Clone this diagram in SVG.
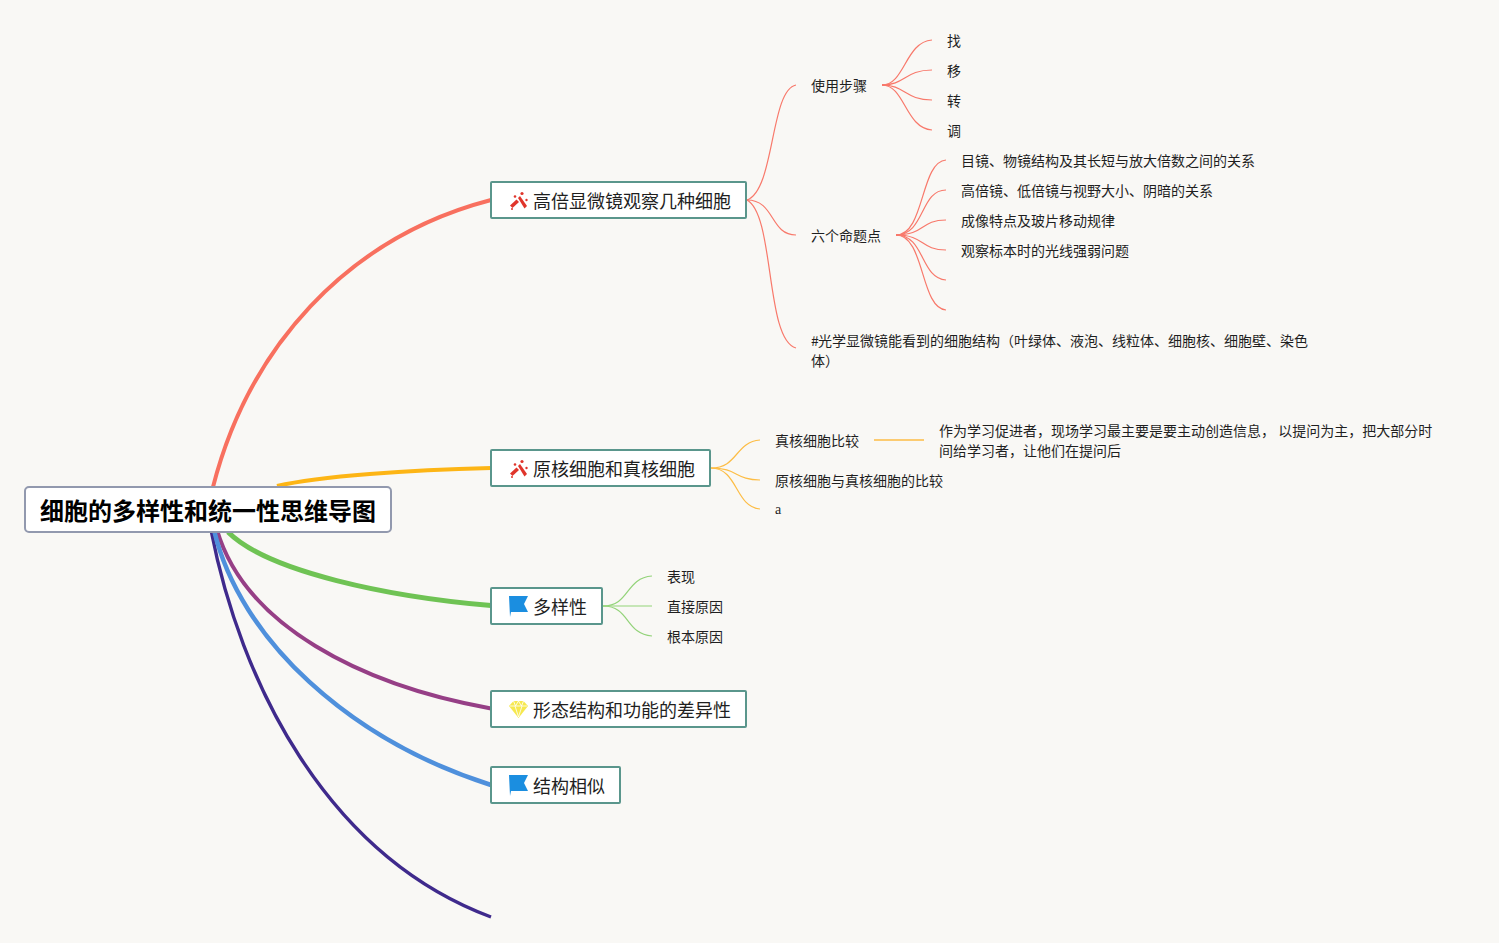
<svg xmlns="http://www.w3.org/2000/svg" width="1499" height="943" viewBox="0 0 1499 943">
<style>
text{font-family:"Noto Sans CJK SC","Noto Sans",sans-serif;fill:#1f1f1f}
.t{font-size:14px}.m{font-size:18px}
.box{fill:#fff;stroke:#5a968c;stroke-width:2}
.c{fill:none}
.thick{stroke-width:4;stroke-linecap:butt}
.thin{stroke-width:1.2}
.r{stroke:#f8796b}.y{stroke:#fdbd45}.g{stroke:#93d379}
.w{fill:#e0352b}
</style>
<defs>
<g id="wand">
<path class="w" d="M510 205.500l6.500-6 2.500 2.500-6.500 6z"/>
<path class="w" d="M518 198l2-2 7 10-2.500 2.500z"/>
<circle class="w" cx="515" cy="196.500" r="1.300"/><circle class="w" cx="522" cy="193.500" r="1.600"/><circle class="w" cx="526.500" cy="200" r="1.200"/><circle class="w" cx="512" cy="209" r="1"/>
</g>
<path id="flag" fill="#1b8ee0" d="M509 596h19l-4 8 4 8h-17l-1 5z"/>
</defs>
<rect width="1499" height="943" fill="#f9f8f5"/>
<g id="connectors" class="c">
<path class="c thick" stroke="#f8705f" d="M213 487C248 350 345 238 491 200"/>
<path class="c thick" stroke="#fdb515" d="M277 486C320 476 410 470 491 468"/>
<path class="c" stroke-width="5" stroke="#6fc354" d="M228 532C268 572 390 597 491 605.500"/>
<path class="c" stroke-width="3.400" stroke="#3f2a8c" d="M211 530C240 680 325 855 491 917"/>
<path class="c thick" stroke="#963f86" d="M217 530C245 625 360 685 491 708.500"/>
<path class="c" stroke-width="4.500" stroke="#4f90dc" d="M214 530C240 640 350 740 491 785"/>
<g class="thin r">
<path class="c" d="M747 200C775 190 770 90 796 85"/>
<path class="c" d="M747 200C775 200 770 235 796 235"/>
<path class="c" d="M747 200C775 215 765 340 796 348"/>
<path class="c" d="M882 85C905 85 905 42 932 40"/>
<path class="c" d="M882 85C905 85 905 70 932 70"/>
<path class="c" d="M882 85C905 85 905 100 932 100"/>
<path class="c" d="M882 85C905 85 905 128 932 130"/>
<path class="c" d="M896 235C925 235 920 162 946 160"/>
<path class="c" d="M896 235C925 235 920 190 946 190"/>
<path class="c" d="M896 235C925 235 920 220 946 220"/>
<path class="c" d="M896 235C925 235 920 250 946 250"/>
<path class="c" d="M896 235C925 235 920 278 946 280"/>
<path class="c" d="M896 235C925 235 920 308 946 310"/>
<path class="c" stroke-width="2" d="M882 85H890M896 235H904"/>
</g>
<g class="thin y">
<path class="c" d="M711 468C738 468 735 442 760 440"/>
<path class="c" d="M711 468C738 468 735 480 760 480"/>
<path class="c" d="M711 468C738 468 735 507 760 509"/>
<path class="c" d="M874 440H924" stroke-width="1.600"/>
</g>
<g class="thin g">
<path class="c" d="M603 606C630 606 625 578 652 576"/>
<path class="c" d="M603 606H652"/>
<path class="c" d="M603 606C630 606 625 634 652 636"/>
</g>
</g>
<g id="root">
<rect x="25" y="487" width="366" height="45" rx="4" fill="#fff" stroke="#9299ae" stroke-width="2"/>
<text x="40" y="520" font-size="24" font-weight="700" style="fill:#000">细胞的多样性和统一性思维导图</text>
</g>
<g id="n1">
<rect class="box" x="491" y="182" width="255" height="36" rx="1"/>
<use href="#wand"/>
<text class="m" x="533" y="208">高倍显微镜观察几种细胞</text>
</g>
<g id="n2">
<rect class="box" x="491" y="450" width="219" height="36" rx="1"/>
<use href="#wand" y="268"/>
<text class="m" x="533" y="476">原核细胞和真核细胞</text>
</g>
<g id="n3">
<rect class="box" x="491" y="588" width="111" height="36" rx="1"/>
<use href="#flag"/>
<text class="m" x="533" y="614">多样性</text>
</g>
<g id="n4">
<rect class="box" x="491" y="691" width="255" height="36" rx="1"/>
<path fill="#f6e84e" d="M513.500 701h10l4.500 5-9.500 12-9.500-12z"/>
<path fill="none" stroke="#fff" stroke-width=".8" d="M510 706h17M515 706l3.500 11 3.500-11M513.500 701l2 5 3-5 3 5 2-5"/>
<text class="m" x="533" y="717">形态结构和功能的差异性</text>
</g>
<g id="n5">
<rect class="box" x="491" y="767" width="129" height="36" rx="1"/>
<use href="#flag" y="179"/>
<text class="m" x="533" y="793">结构相似</text>
</g>
<g id="labels">
<text class="t" x="811" y="91">使用步骤</text>
<text class="t" x="947" y="46">找</text>
<text class="t" x="947" y="76">移</text>
<text class="t" x="947" y="106">转</text>
<text class="t" x="947" y="136">调</text>
<text class="t" x="811" y="241">六个命题点</text>
<text class="t" x="961" y="166">目镜、物镜结构及其长短与放大倍数之间的关系</text>
<text class="t" x="961" y="196">高倍镜、低倍镜与视野大小、阴暗的关系</text>
<text class="t" x="961" y="226">成像特点及玻片移动规律</text>
<text class="t" x="961" y="256">观察标本时的光线强弱问题</text>
<text class="t" x="811" y="346">#<tspan x="818">光学显微镜能看到的细胞结构（叶绿体、液泡、线粒体、细胞核、细胞壁、染色</tspan></text>
<text class="t" x="811" y="366">体）</text>
<text class="t" x="775" y="446">真核细胞比较</text>
<text class="t" x="939" y="436">作为学习促进者，现场学习最主要是要主动创造信息， 以提问为主，把大部分时</text>
<text class="t" x="939" y="456">间给学习者，让他们在提问后</text>
<text class="t" x="775" y="486">原核细胞与真核细胞的比较</text>
<text class="t" x="775" y="514" style="font-family:'Liberation Serif',serif">a</text>
<text class="t" x="667" y="582">表现</text>
<text class="t" x="667" y="612">直接原因</text>
<text class="t" x="667" y="642">根本原因</text>
</g>
</svg>
